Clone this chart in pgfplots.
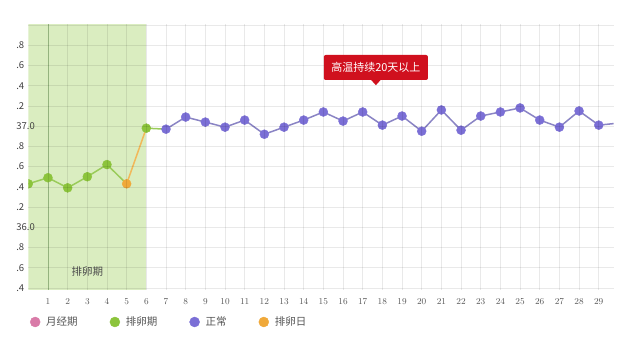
\documentclass[border=0pt]{standalone}
\usepackage{pgfplots}
\pgfplotsset{compat=1.18}
\usepackage{fontspec}
\setmainfont{Noto Sans CJK SC}
\definecolor{bandg}{HTML}{DAEDC0}
\definecolor{gmark}{HTML}{8CC43C}
\definecolor{gline}{HTML}{9ACB5A}
\definecolor{omark}{HTML}{F0A93A}
\definecolor{oline}{HTML}{F2B85A}
\definecolor{pmark}{HTML}{7B6FD6}
\definecolor{pline}{HTML}{8A84C4}
\definecolor{pinkm}{HTML}{D97BA8}
\definecolor{tipred}{HTML}{D0101E}
\definecolor{ticktxt}{HTML}{555555}
\definecolor{vline}{HTML}{A3C48A}
\begin{document}
\begin{tikzpicture}[x=1pt,y=1pt]
\path[use as bounding box] (0,0) rectangle (640,339);
\begin{axis}[
  axis on top,
  at={(28.3pt,49pt)}, anchor=south west,
  scale only axis, width=585.2pt, height=266pt,
  xmin=0, xmax=29.75, ymin=35.38, ymax=38.01,
  axis line style={draw=none},
  xtick={1,...,29},
  ytick={35.4,35.6,35.8,36.0,36.2,36.4,36.6,36.8,37.0,37.2,37.4,37.6,37.8,38.0},
  yticklabels={.4,.6,.8,36.0,.2,.4,.6,.8,37.0,.2,.4,.6,.8,{}},
  grid=major, major grid style={black, opacity=0.085, line width=0.6pt},
  major tick length=0,
  tick label style={font=\fontsize{9.5}{10}\selectfont, text=ticktxt},
  yticklabel style={anchor=west, xshift=-15.5pt, text=black!75},
  xticklabel style={yshift=-5pt},
  clip marker paths=true,
  legend columns=4,
  legend cell align=left,
  legend style={draw=none, fill=none, inner sep=0pt, text=ticktxt,
    font=\fontsize{10.5}{12}\selectfont,
    at={(axis description cs:0,0)}, anchor=west, xshift=1.5pt, yshift=-32pt,
    /tikz/every even column/.append style={column sep=30pt}},
]
\addplot[draw=none, fill=bandg, forget plot] coordinates {(0,38.01) (6,38.01)} \closedcycle;
\draw[vline, line width=0.8pt] (axis cs:1,35.38) -- (axis cs:1,38.01);
\node[font=\fontsize{10.5}{12}\selectfont, text=black!70] at (axis cs:3.0,35.56) {排卵期};

% lines
\addplot[gline, line width=1.5pt, no marks, forget plot] coordinates {
(0,36.43) (1,36.49) (2,36.39) (3,36.50) (4,36.62) (5,36.43)};
\addplot[oline, line width=1.5pt, no marks, forget plot] coordinates {(5,36.43) (6,36.98)};
\addplot[gline, line width=1.5pt, no marks, forget plot] coordinates {(6,36.98) (7,36.97)};
\addplot[pline, line width=1.5pt, no marks, forget plot] coordinates {
(7,36.97) (8,37.09) (9,37.04) (10,36.99) (11,37.06) (12,36.92) (13,36.99) (14,37.06)
(15,37.14) (16,37.05) (17,37.14) (18,37.01) (19,37.10) (20,36.95) (21,37.16) (22,36.96)
(23,37.10) (24,37.14) (25,37.18) (26,37.06) (27,36.99) (28,37.15) (29,37.01) (30,37.03)};
% marks
\addplot[only marks, mark=*, mark size=4.5pt, mark options={draw=gmark, fill=gmark}, forget plot] coordinates {
(0,36.43) (1,36.49) (2,36.39) (3,36.50) (4,36.62) (6,36.98)};
\addplot[only marks, mark=*, mark size=4.5pt, mark options={draw=omark, fill=omark}, forget plot] coordinates {(5,36.43)};
\addplot[only marks, mark=*, mark size=4.5pt, mark options={draw=pmark, fill=pmark}, forget plot] coordinates {
(7,36.97) (8,37.09) (9,37.04) (10,36.99) (11,37.06) (12,36.92) (13,36.99) (14,37.06)
(15,37.14) (16,37.05) (17,37.14) (18,37.01) (19,37.10) (20,36.95) (21,37.16) (22,36.96)
(23,37.10) (24,37.14) (25,37.18) (26,37.06) (27,36.99) (28,37.15) (29,37.01)};

\addlegendimage{legend image code/.code={\path[draw=none,fill=none] (0pt,-1pt) rectangle (14pt,1pt); \fill[pinkm] (5pt,0pt) circle (5pt);}}
\addlegendentry{月经期}
\addlegendimage{legend image code/.code={\path[draw=none,fill=none] (0pt,-1pt) rectangle (14pt,1pt); \fill[gmark] (5pt,0pt) circle (5pt);}}
\addlegendentry{排卵期}
\addlegendimage{legend image code/.code={\path[draw=none,fill=none] (0pt,-1pt) rectangle (14pt,1pt); \fill[pmark] (5pt,0pt) circle (5pt);}}
\addlegendentry{正常}
\addlegendimage{legend image code/.code={\path[draw=none,fill=none] (0pt,-1pt) rectangle (14pt,1pt); \fill[omark] (5pt,0pt) circle (5pt);}}
\addlegendentry{排卵日}

\coordinate (tipc) at (axis cs:17.67,37.58);
\end{axis}
\node[fill=tipred, text=white, rounded corners=2pt, inner xsep=7.5pt, minimum height=25pt,
  font=\fontsize{11}{13}\selectfont] (tip) at (tipc) {高温持续20天以上};
\fill[tipred] ([xshift=-5pt,yshift=0.5pt]tip.south) -- ([xshift=5pt,yshift=0.5pt]tip.south) -- ([yshift=-5pt]tip.south) -- cycle;
\end{tikzpicture}
\end{document}
